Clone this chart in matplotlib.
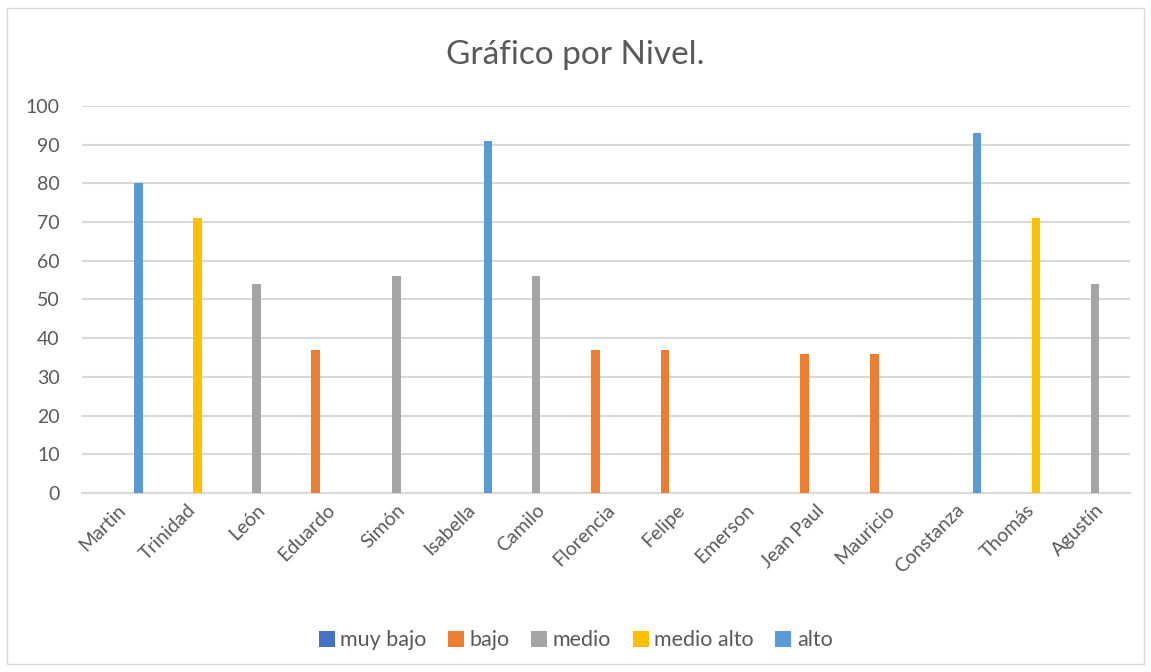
import numpy as np
import matplotlib.pyplot as plt
from matplotlib.patches import Rectangle

# categorias (alumnos) y puntaje por nivel
alumnos = ["Martin", "Trinidad", "León", "Eduardo", "Simón", "Isabella", "Camilo",
           "Florencia", "Felipe", "Emerson", "Jean Paul", "Mauricio", "Constanza",
           "Thomás", "Agustín"]
muy_bajo = [0, 0, 0, 0, 0, 0, 0, 0, 0, 0, 0, 0, 0, 0, 0]
bajo = [0, 0, 0, 37, 0, 0, 0, 37, 37, 0, 36, 36, 0, 0, 0]
medio = [0, 0, 54, 0, 56, 0, 56, 0, 0, 0, 0, 0, 0, 0, 54]
medio_alto = [0, 71, 0, 0, 0, 0, 0, 0, 0, 0, 0, 0, 0, 71, 0]
alto = [80, 0, 0, 0, 0, 91, 0, 0, 0, 0, 0, 0, 93, 0, 0]

series = [("muy bajo", muy_bajo, "#4472C4"),
          ("bajo", bajo, "#ED7D31"),
          ("medio", medio, "#A5A5A5"),
          ("medio alto", medio_alto, "#FFC000"),
          ("alto", alto, "#5B9BD5")]

plt.rcParams['font.family'] = ['Lato', 'DejaVu Sans']
txt = "#595959"

fig = plt.figure(figsize=(11.51, 6.72), dpi=100)
fig.patches.append(Rectangle((0.006, 0.012), 0.988, 0.976, transform=fig.transFigure,
                             fill=False, edgecolor="#D9D9D9", linewidth=1))
ax = fig.add_axes([0.0712, 0.2664, 0.9106, 0.5759])

x = np.arange(len(alumnos))
step = 0.155
width = 0.125
for i, (name, vals, col) in enumerate(series):
    ax.bar(x + (i - 2) * step, vals, width=width, color=col, label=name, zorder=3)

ax.set_xlim(-0.5, len(alumnos) - 0.5)
ax.set_ylim(0, 100)
ax.set_yticks(range(0, 101, 10))
ax.grid(axis="y", color="#D9D9D9", linewidth=1.5, zorder=0)
for s in ["top", "right", "left"]:
    ax.spines[s].set_visible(False)
ax.spines["bottom"].set_color("#D9D9D9")
ax.spines["bottom"].set_linewidth(1.5)
ax.tick_params(axis="both", length=0, colors=txt, labelsize=14)
ax.tick_params(axis="y", pad=16)
ax.tick_params(axis="x", pad=6)
ax.set_xticks(x)
ax.set_xticklabels(alumnos, rotation=45, ha="right", rotation_mode="anchor")

fig.text(0.5, 0.918, "Gráfico por Nivel.", ha="center", va="center", fontsize=24, color=txt)

fig.legend(loc="center", bbox_to_anchor=(0.5, 0.047), ncol=5, frameon=False,
           fontsize=15.5, labelcolor=txt, handlelength=0.75, handleheight=0.75,
           handletextpad=0.25, columnspacing=1.0)

fig.savefig("out.png", dpi=100)
